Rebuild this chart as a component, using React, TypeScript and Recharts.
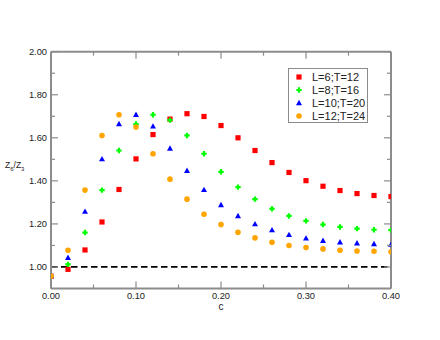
import { ScatterChart, Scatter, XAxis, YAxis, ReferenceLine, Legend, Label } from 'recharts';

const cValues = [0, 0.02, 0.04, 0.06, 0.08, 0.1, 0.12, 0.14, 0.16, 0.18, 0.2, 0.22, 0.24, 0.26, 0.28, 0.3, 0.32, 0.34, 0.36, 0.38, 0.4];
const l6t12 = [0.957, 0.989, 1.079, 1.209, 1.36, 1.502, 1.615, 1.687, 1.712, 1.699, 1.657, 1.6, 1.541, 1.485, 1.439, 1.401, 1.375, 1.355, 1.341, 1.332, 1.327];
const l8t16 = [0.957, 1.012, 1.16, 1.357, 1.541, 1.664, 1.707, 1.682, 1.611, 1.526, 1.442, 1.371, 1.315, 1.27, 1.237, 1.214, 1.197, 1.186, 1.178, 1.173, 1.171];
const l10t20 = [0.957, 1.043, 1.257, 1.501, 1.664, 1.707, 1.653, 1.55, 1.447, 1.358, 1.288, 1.237, 1.199, 1.171, 1.149, 1.133, 1.122, 1.115, 1.11, 1.107, 1.104];
const l12t24 = [0.957, 1.078, 1.357, 1.611, 1.707, 1.65, 1.526, 1.408, 1.315, 1.245, 1.197, 1.161, 1.135, 1.115, 1.1, 1.09, 1.084, 1.078, 1.074, 1.073, 1.071];

const seriesNames = ['L=6;T=12', 'L=8;T=16', 'L=10;T=20', 'L=12;T=24'];
const seriesColors = ['#ff0000', '#00ff00', '#0000ff', '#ffa500'];
const seriesShapes = ['square', 'plus', 'triangle', 'circle'];
const seriesValues = [l6t12, l8t16, l10t20, l12t24];

const xTicks = [0, 0.05, 0.1, 0.15, 0.2, 0.25, 0.3, 0.35, 0.4];
const yTicks = [1.0, 1.1, 1.2, 1.3, 1.4, 1.5, 1.6, 1.7, 1.8, 1.9, 2.0];

const AXIS = '#8c8c8c';
const TEXT = '#222';
const FONT = '"Liberation Sans", Arial, sans-serif';

const isMajor = (v: number, step: number) => Math.abs(v / step - Math.round(v / step)) < 1e-6;

function Marker({ shape, cx, cy, color }: { shape: string; cx: number; cy: number; color: string }) {
  if (shape === 'square') return <rect x={cx - 2.6} y={cy - 2.6} width={5.2} height={5.2} fill={color} />;
  if (shape === 'plus')
    return (
      <path
        d={`M${cx - 1.1},${cy - 2.7}h2.2v1.6h1.6v2.2h-1.6v1.6h-2.2v-1.6h-1.6v-2.2h1.6z`}
        fill={color}
      />
    );
  if (shape === 'triangle')
    return <path d={`M${cx},${cy - 3.2}L${cx + 3},${cy + 2.2}L${cx - 3},${cy + 2.2}z`} fill={color} />;
  return <circle cx={cx} cy={cy} r={2.8} fill={color} />;
}

function BottomTick({ x, y, payload }: any) {
  const major = isMajor(payload.value, 0.1);
  return (
    <g>
      <line x1={x} y1={y} x2={x} y2={y - (major ? 7 : 4)} stroke={AXIS} strokeWidth={1.2} />
      {major && (
        <text x={x} y={y + 10} textAnchor="middle" fontSize={9.3} fill={TEXT} fontFamily={FONT}>
          {payload.value.toFixed(2)}
        </text>
      )}
    </g>
  );
}

function TopTick({ x, y, payload }: any) {
  const major = isMajor(payload.value, 0.1);
  return <line x1={x} y1={y} x2={x} y2={y + (major ? 7 : 4)} stroke={AXIS} strokeWidth={1.2} />;
}

function LeftTick({ x, y, payload }: any) {
  const major = isMajor(payload.value, 0.2);
  return (
    <g>
      <line x1={x} y1={y} x2={x + (major ? 7 : 4)} y2={y} stroke={AXIS} strokeWidth={1.2} />
      {major && (
        <text x={x - 4} y={y + 3.3} textAnchor="end" fontSize={9.3} fill={TEXT} fontFamily={FONT}>
          {payload.value.toFixed(2)}
        </text>
      )}
    </g>
  );
}

function RightTick({ x, y, payload }: any) {
  const major = isMajor(payload.value, 0.2);
  return <line x1={x} y1={y} x2={x - (major ? 7 : 4)} y2={y} stroke={AXIS} strokeWidth={1.2} />;
}

function LegendBox() {
  return (
    <div
      style={{
        boxSizing: 'border-box',
        width: 80,
        height: 55,
        border: `1px solid ${AXIS}`,
        background: '#fff',
        paddingTop: 2,
        fontFamily: FONT,
        fontSize: 11,
        color: TEXT,
      }}
    >
      {seriesNames.map((name, i) => (
        <div key={name} style={{ height: 12.8, display: 'flex', alignItems: 'center' }}>
          <svg width={22} height={12} style={{ display: 'block' }}>
            <Marker shape={seriesShapes[i]} cx={10} cy={6} color={seriesColors[i]} />
          </svg>
          <span style={{ marginLeft: 1, lineHeight: '12px' }}>{name}</span>
        </div>
      ))}
    </div>
  );
}

export default function App() {
  const seriesData = seriesValues.map((vals) => vals.map((v, i) => ({ c: cValues[i], v })));
  return (
    <div style={{ position: 'absolute', left: 0, top: 0 }}>
      <ScatterChart width={440} height={340} margin={{ top: 50.7, right: 48, bottom: 21.5, left: 0 }}>
        <XAxis
          type="number"
          dataKey="c"
          domain={[0, 0.4]}
          ticks={xTicks}
          interval={0}
          allowDataOverflow
          height={30}
          tickSize={0}
          tickMargin={0}
          tickLine={false}
          tick={<BottomTick />}
          axisLine={{ stroke: AXIS, strokeWidth: 2 }}
        >
          <Label
            content={({ viewBox }: any) => (
              <text x={viewBox.x + viewBox.width / 2} y={viewBox.y + 21} textAnchor="middle" fontSize={10} fill={TEXT} fontFamily={FONT}>
                c
              </text>
            )}
          />
        </XAxis>
        <XAxis
          xAxisId="top"
          orientation="top"
          type="number"
          dataKey="c"
          domain={[0, 0.4]}
          ticks={xTicks}
          interval={0}
          allowDataOverflow
          height={1}
          tickSize={0}
          tickMargin={0}
          tickLine={false}
          tick={<TopTick />}
          axisLine={{ stroke: AXIS, strokeWidth: 2 }}
        />
        <YAxis
          type="number"
          dataKey="v"
          domain={[0.9, 2.0]}
          ticks={yTicks}
          interval={0}
          allowDataOverflow
          width={51}
          tickSize={0}
          tickMargin={0}
          tickLine={false}
          tick={<LeftTick />}
          axisLine={{ stroke: AXIS, strokeWidth: 2 }}
        >
          <Label
            content={({ viewBox }: any) => (
              <text x={5} y={viewBox.y + viewBox.height / 2 - 1.8} fontSize={8.5} fill={TEXT} fontFamily={FONT}>
                Z
                <tspan fontSize={6} dy={2.5}>6</tspan>
                <tspan fontSize={8.5} dy={-2.5}>/Z</tspan>
                <tspan fontSize={6} dy={2.5}>3</tspan>
              </text>
            )}
          />
        </YAxis>
        <YAxis
          yAxisId="right"
          orientation="right"
          type="number"
          dataKey="v"
          domain={[0.9, 2.0]}
          ticks={yTicks}
          interval={0}
          allowDataOverflow
          width={1}
          tickSize={0}
          tickMargin={0}
          tickLine={false}
          tick={<RightTick />}
          axisLine={{ stroke: AXIS, strokeWidth: 2 }}
        />
        <ReferenceLine y={1} stroke="#000" strokeWidth={1.8} strokeDasharray="6.5 3.5" />
        {seriesData.map((data, i) => (
          <Scatter
            key={seriesNames[i]}
            name={seriesNames[i]}
            data={data}
            isAnimationActive={false}
            shape={(p: any) => <Marker shape={seriesShapes[i]} cx={p.cx} cy={p.cy} color={seriesColors[i]} />}
          />
        ))}
        <Legend
          layout="vertical"
          align="center"
          verticalAlign="middle"
          wrapperStyle={{ left: 288, top: 68, width: 80, height: 55 }}
          content={() => <LegendBox />}
        />
      </ScatterChart>
    </div>
  );
}
